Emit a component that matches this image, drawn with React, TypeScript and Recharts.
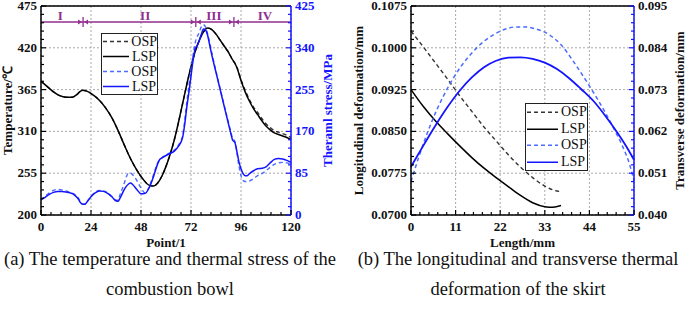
import React from "react";
import {
  LineChart,
  Line,
  XAxis,
  YAxis,
  CartesianGrid,
  ReferenceLine,
  ReferenceDot,
  Legend,
  Label,
} from "recharts";

const SERIF = '"Liberation Serif", "Times New Roman", serif';
const BLUE = "#1414ff";
const BLUE_DASH = "#4c6cff";
const PURPLE = "#912f91";
const GRID = "#a9a9a9";

// (a) combustion bowl: temperature (left axis) and thermal stress (right axis)
const pointTicks = [0, 24, 48, 72, 96, 120];
const tempTicks = [200, 255, 310, 365, 420, 475];
const stressTicks = [0, 85, 170, 255, 340, 425];

const tempX = [0, 3, 6, 9, 12, 15, 17, 19, 20, 22, 25, 28, 31, 34, 37, 40, 43, 46, 49, 52, 54, 56, 58, 60, 62, 64, 66, 68, 70, 72, 74, 76, 78, 80, 82, 84, 86, 88, 90, 92, 93, 94, 96, 98, 100, 102, 104, 106, 108, 110, 112, 114, 116, 118, 120];
const tempLSP = [376, 369, 362, 357, 355, 355, 358, 363, 364, 363, 358, 351, 341, 328, 311, 292, 274, 259, 247, 239, 238, 242, 251, 264, 280, 299, 322, 347, 372, 395, 415, 430, 441, 446, 444, 438, 430, 422, 414, 404, 400, 394, 377, 362, 350, 340, 332, 324, 317, 312, 308, 306, 304, 302, 299];
const tempOSP = [376, 369, 362, 357, 355, 355, 358, 363, 364, 363, 358, 351, 341, 328, 311, 292, 274, 259, 247, 239, 238, 242, 251, 264, 280, 299, 322, 347, 372, 395, 415, 430, 441, 446, 444, 438, 430, 422, 414, 404, 400, 395, 378, 364, 352, 342, 335, 327, 320, 315, 311, 309, 307, 305, 302];

const stressLspX = [0, 2, 4, 6, 8, 10, 12, 14, 16, 18, 19, 20, 21, 22, 24, 26, 28, 30, 32, 34, 36, 37, 38, 40, 42, 43, 44, 46, 48, 50, 52, 54, 56, 57, 58, 60, 62, 64, 66, 68, 69, 70, 71, 72, 73, 74, 75, 76, 77, 78, 79, 80, 81, 82, 84, 86, 88, 90, 91, 92, 93, 94, 95, 96, 97, 98, 99, 100, 102, 104, 106, 108, 110, 112, 114, 116, 118, 120];
const stressLSP = [31, 36, 42, 46, 48, 48, 47, 45, 41, 32, 25, 22, 22, 26, 37, 45, 49, 48, 44, 37, 29, 28, 35, 52, 63, 65, 62, 52, 43, 44, 56, 78, 104, 113, 116, 121, 125, 130, 140, 158, 185, 220, 250, 282, 315, 338, 345, 355, 368, 378, 376, 365, 345, 325, 290, 255, 220, 185, 168, 152, 148, 130, 108, 94, 84, 80, 80, 84, 90, 94, 95, 98, 106, 113, 115, 114, 111, 107];
const stressOspX = [0, 2, 4, 6, 8, 10, 12, 14, 16, 18, 19, 20, 21, 22, 24, 26, 28, 30, 32, 34, 36, 37, 38, 40, 41, 42, 43, 44, 46, 48, 50, 52, 54, 56, 58, 60, 62, 64, 66, 68, 70, 72, 74, 76, 77, 78, 79, 80, 82, 84, 86, 88, 90, 92, 93, 94, 95, 96, 97, 98, 100, 102, 104, 106, 108, 110, 112, 114, 116, 118, 120];
const stressOSP = [31, 38, 45, 50, 52, 51, 49, 46, 42, 34, 27, 22, 22, 27, 38, 46, 50, 49, 45, 38, 30, 31, 42, 65, 78, 85, 85, 82, 70, 55, 45, 58, 82, 106, 116, 122, 127, 132, 142, 162, 230, 295, 350, 372, 383, 387, 382, 368, 330, 292, 257, 222, 188, 156, 150, 128, 100, 80, 70, 68, 69, 74, 80, 84, 90, 97, 103, 106, 107, 106, 104];

// stage zones along the bowl
const zoneBounds = [20.2, 74.3, 92.6];
const zoneNames = ["I", "II", "III", "IV"];
const zoneNameX = [9.2, 50, 83, 107.5];

// (b) skirt: longitudinal (left axis) and transverse (right axis) deformation
const lengthTicks = [0, 11, 22, 33, 44, 55];
const longTicks = [0.07, 0.0775, 0.085, 0.0925, 0.1, 0.1075];
const transTicks = [0.04, 0.051, 0.062, 0.073, 0.084, 0.095];

const longX = [0, 3, 6, 9, 12, 15, 18, 21, 24, 27, 30, 33, 35, 37];
const longOSP = [0.103, 0.1002, 0.0973, 0.0944, 0.0914, 0.0886, 0.0858, 0.0833, 0.0808, 0.0786, 0.0767, 0.0752, 0.0745, 0.0742];
const longLSP = [0.0925, 0.0895, 0.0869, 0.0846, 0.0824, 0.0803, 0.0784, 0.0767, 0.0751, 0.0735, 0.0722, 0.0715, 0.0714, 0.0717];

const transOspX = [0, 2, 4, 6, 8, 11, 14, 17, 20, 23, 26, 28, 31, 34, 37, 40, 42, 44, 46, 48, 50, 52, 54, 55];
const transOSP = [0.0488, 0.0555, 0.0615, 0.0668, 0.0713, 0.077, 0.0814, 0.0848, 0.0872, 0.0888, 0.0895, 0.0895, 0.0889, 0.0875, 0.0848, 0.0805, 0.0773, 0.074, 0.0705, 0.0668, 0.0628, 0.0585, 0.053, 0.049];
const transLspX = [0, 3, 6, 9, 12, 15, 18, 21, 24, 27, 30, 33, 36, 39, 42, 45, 48, 51, 53, 55];
const transLSP = [0.0527, 0.0582, 0.0635, 0.0684, 0.0727, 0.0762, 0.0789, 0.0806, 0.0814, 0.0815, 0.0811, 0.0801, 0.0784, 0.076, 0.0731, 0.07, 0.066, 0.0615, 0.0582, 0.0545];

const rows = (xs: number[], ys: number[]) => xs.map((x, i) => ({ x, y: ys[i] }));

// majors plus 4 minor ticks in between
const withMinor = (majors: number[], n = 5) =>
  majors.flatMap((m, i) =>
    i === 0 ? [m] : Array.from({ length: n }, (_, k) => majors[i - 1] + ((m - majors[i - 1]) * (k + 1)) / n)
  );

const isMajor = (v: number, majors: number[]) =>
  majors.some((m) => Math.abs(m - v) < 1e-9 + Math.abs(m) * 1e-6);

const makeTick =
  (side: "bottom" | "left" | "right", majors: number[], fmt: (v: number) => string, tickColor: string, labelColor: string) =>
  (p: any) => {
    const { x, y, payload } = p;
    const v = payload.value as number;
    const major = isMajor(v, majors);
    const len = major ? 5 : 3;
    const textStyle = { fontFamily: SERIF, fontSize: 13, fontWeight: 700, fill: labelColor };
    if (side === "bottom") {
      return (
        <g>
          <line x1={x} x2={x} y1={y} y2={y - len} stroke={tickColor} strokeWidth={1.2} />
          {major && (
            <text x={x} y={y + 16} textAnchor="middle" style={textStyle}>
              {fmt(v)}
            </text>
          )}
        </g>
      );
    }
    const dir = side === "left" ? 1 : -1;
    return (
      <g>
        <line x1={x} x2={x + dir * len} y1={y} y2={y} stroke={tickColor} strokeWidth={1.2} />
        {major && (
          <text x={x - dir * 4} y={y + 4} textAnchor={side === "left" ? "end" : "start"} style={textStyle}>
            {fmt(v)}
          </text>
        )}
      </g>
    );
  };

const VTitle = ({ viewBox, text, dx, color }: any) => {
  const cx = viewBox.x + dx;
  const cy = viewBox.y + viewBox.height / 2;
  return (
    <text
      x={cx}
      y={cy}
      transform={`rotate(-90 ${cx} ${cy})`}
      textAnchor="middle"
      dominantBaseline="central"
      style={{ fontFamily: SERIF, fontSize: 13, fontWeight: 700, fill: color }}
    >
      {text}
    </text>
  );
};

const HTitle = ({ viewBox, text }: any) => (
  <text
    x={viewBox.x + viewBox.width / 2}
    y={viewBox.y + 31.5}
    textAnchor="middle"
    style={{ fontFamily: SERIF, fontSize: 13, fontWeight: 700, fill: "#111" }}
  >
    {text}
  </text>
);

// legend rows: black before blue, dashed (OSP) before solid (LSP)
const legendRank = (e: any) =>
  (String(e.color).toLowerCase().includes("ff") ? 2 : 0) + (e.payload?.strokeDasharray ? 0 : 1);

const LegendBox = ({ payload, width, row, lineW }: any) => (
  <div
    style={{
      border: "1.5px solid #222",
      background: "#fff",
      width,
      fontFamily: SERIF,
      fontSize: 14,
      color: "#111",
      boxSizing: "border-box",
    }}
  >
    {[...(payload ?? [])]
      .sort((a: any, b: any) => legendRank(a) - legendRank(b))
      .map((e: any, i: number) => (
        <div key={i} style={{ display: "flex", alignItems: "center", height: row }}>
          <svg width={lineW} height={row} style={{ display: "block" }}>
            <line
              x1={1}
              x2={lineW - 1}
              y1={row / 2}
              y2={row / 2}
              stroke={e.color}
              strokeWidth={1.5}
              strokeDasharray={e.payload?.strokeDasharray}
            />
          </svg>
          <span style={{ marginLeft: 2, lineHeight: 1 }}>{e.value}</span>
        </div>
      ))}
  </div>
);

const ZoneMark = ({ cx, cy }: any) => (
  <g>
    <line x1={cx} x2={cx} y1={cy - 5} y2={cy + 5} stroke={PURPLE} strokeWidth={1.3} />
    <path d={`M${cx - 1},${cy} l-4,-2.5 v5 z`} fill={PURPLE} />
    <path d={`M${cx + 1},${cy} l4,-2.5 v5 z`} fill={PURPLE} />
  </g>
);

const zoneLabel = (name: string) => ({ cx, cy }: any) => (
  <text
    x={cx}
    y={cy + 4.5}
    textAnchor="middle"
    style={{ fontFamily: SERIF, fontSize: 13, fontWeight: 700, fill: PURPLE }}
  >
    {name}
  </text>
);

const caption: React.CSSProperties = {
  position: "absolute",
  top: 244,
  textAlign: "center",
  fontFamily: SERIF,
  fontSize: 18.5,
  lineHeight: "30px",
  color: "#111",
  whiteSpace: "nowrap",
};

export default function App() {
  return (
    <div style={{ position: "absolute", left: 0, top: 0, width: 685, height: 311, background: "#fff", overflow: "hidden" }}>
      <div style={{ position: "absolute", left: 0, top: 0 }}>
        <LineChart width={340} height={250} margin={{ top: 6, right: 0, bottom: 0, left: 0 }}>
          <CartesianGrid
            yAxisId="left"
            stroke={GRID}
            strokeDasharray="2 2"
            horizontalValues={tempTicks}
            verticalValues={pointTicks}
          />
          <XAxis
            type="number"
            dataKey="x"
            domain={[0, 120]}
            ticks={withMinor(pointTicks)}
            interval={0}
            height={35}
            tickSize={0}
            tickMargin={0}
            tickLine={false}
            axisLine={{ stroke: "#000", strokeWidth: 1.5 }}
            tick={makeTick("bottom", pointTicks, (v) => String(v), "#000", "#111")}
          >
            <Label content={(p: any) => <HTitle viewBox={p.viewBox} text="Point/1" />} />
          </XAxis>
          <YAxis
            yAxisId="left"
            type="number"
            domain={[200, 475]}
            ticks={withMinor(tempTicks)}
            interval={0}
            width={41}
            tickSize={0}
            tickMargin={0}
            tickLine={false}
            axisLine={{ stroke: "#000", strokeWidth: 1.5 }}
            tick={makeTick("left", tempTicks, (v) => String(v), "#000", "#111")}
          >
            <Label content={(p: any) => <VTitle viewBox={p.viewBox} text="Temperature/℃" dx={7} color="#111" />} />
          </YAxis>
          <YAxis
            yAxisId="right"
            orientation="right"
            type="number"
            domain={[0, 425]}
            ticks={withMinor(stressTicks)}
            interval={0}
            width={49}
            tickSize={0}
            tickMargin={0}
            tickLine={false}
            axisLine={{ stroke: BLUE, strokeWidth: 1.5 }}
            tick={makeTick("right", stressTicks, (v) => String(v), BLUE, BLUE)}
          >
            <Label content={(p: any) => <VTitle viewBox={p.viewBox} text="Theraml stress/MPa" dx={36} color={BLUE} />} />
          </YAxis>
          <ReferenceLine yAxisId="left" y={475} stroke="#000" strokeWidth={1.5} />
          <ReferenceLine yAxisId="left" y={454} stroke={PURPLE} strokeWidth={1.5} />
          {zoneBounds.map((b) => (
            <ReferenceDot key={b} yAxisId="left" x={b} y={454} r={0} shape={ZoneMark} />
          ))}
          {zoneNames.map((n, i) => (
            <ReferenceDot key={n} yAxisId="left" x={zoneNameX[i]} y={463} r={0} shape={zoneLabel(n)} />
          ))}
          <Line data={rows(tempX, tempOSP)} dataKey="y" yAxisId="left" name="OSP" type="monotone" stroke="#333" strokeWidth={1.4} strokeDasharray="4 3" dot={false} isAnimationActive={false} />
          <Line data={rows(tempX, tempLSP)} dataKey="y" yAxisId="left" name="LSP" type="monotone" stroke="#000" strokeWidth={1.5} dot={false} isAnimationActive={false} />
          <Line data={rows(stressOspX, stressOSP)} dataKey="y" yAxisId="right" name="OSP" type="monotone" stroke={BLUE_DASH} strokeWidth={1.4} strokeDasharray="4 3" dot={false} isAnimationActive={false} />
          <Line data={rows(stressLspX, stressLSP)} dataKey="y" yAxisId="right" name="LSP" type="monotone" stroke={BLUE} strokeWidth={1.5} dot={false} isAnimationActive={false} />
          <Legend
            layout="vertical"
            align="center"
            verticalAlign="middle"
            wrapperStyle={{ position: "absolute", left: 101, top: 33, width: "auto", height: "auto" }}
            content={(p: any) => <LegendBox payload={p.payload} width={57} row={15} lineW={28} />}
          />
        </LineChart>
      </div>

      <div style={{ position: "absolute", left: 340, top: 0 }}>
        <LineChart width={345} height={250} margin={{ top: 6, right: 0, bottom: 0, left: 0 }}>
          <CartesianGrid
            yAxisId="long"
            stroke={GRID}
            strokeDasharray="2 2"
            horizontalValues={longTicks}
            verticalValues={lengthTicks}
          />
          <XAxis
            type="number"
            dataKey="x"
            domain={[0, 55]}
            ticks={withMinor(lengthTicks)}
            interval={0}
            height={35}
            tickSize={0}
            tickMargin={0}
            tickLine={false}
            axisLine={{ stroke: "#000", strokeWidth: 1.5 }}
            tick={makeTick("bottom", lengthTicks, (v) => String(v), "#000", "#111")}
          >
            <Label content={(p: any) => <HTitle viewBox={p.viewBox} text="Length/mm" />} />
          </XAxis>
          <YAxis
            yAxisId="long"
            type="number"
            domain={[0.07, 0.1075]}
            ticks={withMinor(longTicks)}
            interval={0}
            width={71}
            tickSize={0}
            tickMargin={0}
            tickLine={false}
            axisLine={{ stroke: "#000", strokeWidth: 1.5 }}
            tick={makeTick("left", longTicks, (v) => v.toFixed(4), "#000", "#111")}
          >
            <Label content={(p: any) => <VTitle viewBox={p.viewBox} text="Longitudinal deformation/mm" dx={18} color="#111" />} />
          </YAxis>
          <YAxis
            yAxisId="trans"
            orientation="right"
            type="number"
            domain={[0.04, 0.095]}
            ticks={withMinor(transTicks)}
            interval={0}
            width={51}
            tickSize={0}
            tickMargin={0}
            tickLine={false}
            axisLine={{ stroke: BLUE, strokeWidth: 1.5 }}
            tick={makeTick("right", transTicks, (v) => v.toFixed(3), BLUE, "#111")}
          >
            <Label content={(p: any) => <VTitle viewBox={p.viewBox} text="Transverse deformation/mm" dx={45} color="#111" />} />
          </YAxis>
          <ReferenceLine yAxisId="long" y={0.1075} stroke="#000" strokeWidth={1.5} />
          <Line data={rows(longX, longOSP)} dataKey="y" yAxisId="long" name="OSP" type="monotone" stroke="#333" strokeWidth={1.4} strokeDasharray="4 3" dot={false} isAnimationActive={false} />
          <Line data={rows(longX, longLSP)} dataKey="y" yAxisId="long" name="LSP" type="monotone" stroke="#000" strokeWidth={1.5} dot={false} isAnimationActive={false} />
          <Line data={rows(transOspX, transOSP)} dataKey="y" yAxisId="trans" name="OSP" type="monotone" stroke={BLUE_DASH} strokeWidth={1.5} strokeDasharray="4 3" dot={false} isAnimationActive={false} />
          <Line data={rows(transLspX, transLSP)} dataKey="y" yAxisId="trans" name="LSP" type="monotone" stroke={BLUE} strokeWidth={1.8} dot={false} isAnimationActive={false} />
          <Legend
            layout="vertical"
            align="center"
            verticalAlign="middle"
            wrapperStyle={{ position: "absolute", left: 185, top: 103, width: "auto", height: "auto" }}
            content={(p: any) => <LegendBox payload={p.payload} width={63} row={16.5} lineW={33} />}
          />
        </LineChart>
      </div>

      <div style={{ ...caption, left: 0, width: 340 }}>
        (a) The temperature and thermal stress of the
        <br />
        combustion bowl
      </div>
      <div style={{ ...caption, left: 348, width: 340 }}>
        (b) The longitudinal and transverse thermal
        <br />
        deformation of the skirt
      </div>
    </div>
  );
}
